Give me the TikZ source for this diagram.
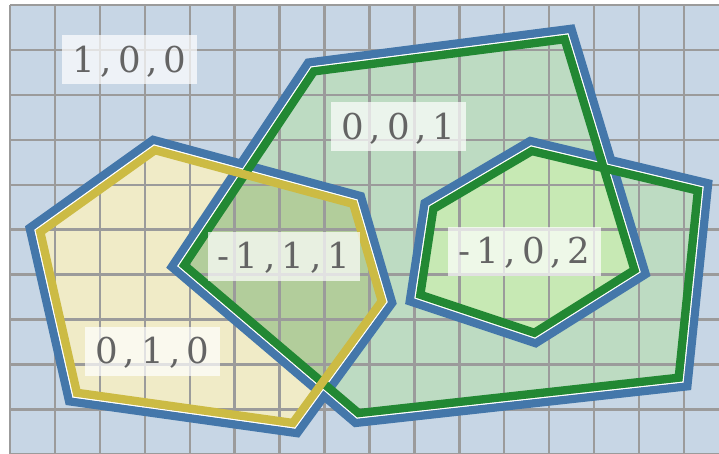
\documentclass[tikz,border=0pt]{standalone}
\usepackage{fontspec}
\newfontfamily\dejavuserif{DejaVu Serif}
\usetikzlibrary{calc}
\definecolor{TolBlue}{RGB}{68,119,170}
\definecolor{TolGreen}{RGB}{34,136,51}
\definecolor{TolYellow}{RGB}{204,187,68}
\definecolor{GridGray}{RGB}{155,155,155}
\definecolor{LabelGray}{RGB}{100,100,100}
\definecolor{HexGreen}{RGB}{199,233,180}
\colorlet{YellowFill}{TolYellow!30}
\colorlet{OverlapFill}{TolGreen!30!YellowFill}
\newcommand\regionfont{\fontsize{35.6}{40}\selectfont\dejavuserif}
\newcommand\bandcorner[6]{%
  \coordinate (#1a) at ($(#2)!#5!#6:(#3)$);
  \coordinate (#1b) at ($(#3)+(#1a)-(#2)$);
  \coordinate (#1c) at ($(#3)!#5!#6:(#4)$);
  \coordinate (#1d) at ($(#4)+(#1c)-(#3)$);
  \coordinate (#1) at (intersection of #1a--#1b and #1c--#1d);
}

\begin{document}
\begin{tikzpicture}[x=1pt,y=-1pt,
  gridline/.style={GridGray,line width=2.4pt},
  blueband/.style={TolBlue,line width=8.3pt},
  whiteline/.style={white,line width=1.2pt},
  greenband/.style={TolGreen,line width=8.3pt},
  yellowband/.style={TolYellow,line width=8.3pt},
  region/.style={fill=white,fill opacity=.7,text opacity=1,text=LabelGray,
    inner xsep=10pt,inner ysep=0pt,text height=36.6pt,text depth=12.4pt,font=\regionfont}]
\useasboundingbox (0,0) rectangle (719,454);
\coordinate (g1) at (311,67);
\coordinate (g2) at (568,34);
\coordinate (g3) at (640,272);
\coordinate (g4) at (535,338);
\coordinate (g5) at (415,298);
\coordinate (g6) at (429,206);
\coordinate (g7) at (531,146);
\coordinate (g8) at (703,187);
\coordinate (g9) at (683,382);
\coordinate (g10) at (357,418);
\coordinate (g11) at (178,266);
\coordinate (y1) at (154,145);
\coordinate (y2) at (357,200);
\coordinate (y3) at (387,302);
\coordinate (y4) at (295,428);
\coordinate (y5) at (73,397);
\coordinate (y6) at (35,230);
\coordinate (hx) at (intersection of g2--g3 and g7--g8);
\foreach \i in {1,...,11}{
  \pgfmathtruncatemacro\p{mod(\i+9,11)+1}
  \pgfmathtruncatemacro\n{mod(\i,11)+1}
  \bandcorner{gb\i}{g\p}{g\i}{g\n}{4.75pt}{90}
  \bandcorner{gc\i}{g\p}{g\i}{g\n}{4.75pt}{-90}
}
\foreach \i in {1,...,6}{
  \pgfmathtruncatemacro\p{mod(\i+4,6)+1}
  \pgfmathtruncatemacro\n{mod(\i,6)+1}
  \bandcorner{yb\i}{y\p}{y\i}{y\n}{4.75pt}{90}
  \bandcorner{yc\i}{y\p}{y\i}{y\n}{4.75pt}{-90}
}
\fill[TolBlue!30] (10,5) rectangle (719,454);
\fill[YellowFill] (y1)--(y2)--(y3)--(y4)--(y5)--(y6)--cycle;
\fill[TolGreen!30] (g1) \foreach \i in {2,...,11}{--(g\i)} --cycle;
\begin{scope}
\clip (y1)--(y2)--(y3)--(y4)--(y5)--(y6)--cycle;
\fill[OverlapFill] (g1) \foreach \i in {2,...,11}{--(g\i)} --cycle;
\end{scope}
\fill[HexGreen] (hx)--(g3)--(g4)--(g5)--(g6)--(g7)--cycle;
\foreach \i in {0,...,15} \draw[gridline] ({10+44.93*\i},5) -- ({10+44.93*\i},454);
\foreach \j in {0,...,10} \draw[gridline] (10,{5+44.93*\j}) -- (719,{5+44.93*\j});
\draw[blueband] (gb1) \foreach \i in {2,...,11}{--(gb\i)} --cycle;
\draw[blueband] (yb1) \foreach \i in {2,...,6}{--(yb\i)} --cycle;
\draw[whiteline] (g1) \foreach \i in {2,...,11}{--(g\i)} --cycle;
\draw[whiteline] (y1) \foreach \i in {2,...,6}{--(y\i)} --cycle;
\draw[greenband] (gc1) \foreach \i in {2,...,11}{--(gc\i)} --cycle;
\draw[yellowband] (yc1) \foreach \i in {2,...,6}{--(yc\i)} --cycle;
\node[region] (r100) at (129.5,60) {1\,,\,0\,,\,0};
\node[region] (r001) at (398.5,127) {0\,,\,0\,,\,1};
\node[region] (r111) at (284,256.5) {-\,1\,,\,1\,,\,1};
\node[region] (r102) at (524.5,251.5) {-\,1\,,\,0\,,\,2};
\node[region] (r010) at (152.5,351.5) {0\,,\,1\,,\,0};
\end{tikzpicture}
\end{document}
